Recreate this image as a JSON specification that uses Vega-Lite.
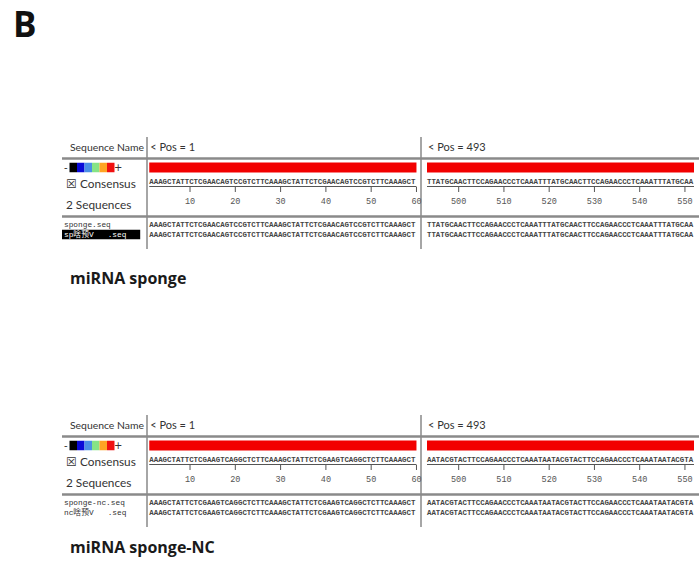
{
  "$schema": "https://vega.github.io/schema/vega-lite/v6.json",
  "width": 699,
  "height": 574,
  "autosize": "none",
  "padding": 0,
  "background": "white",
  "config": {"view": {"stroke": null}},
  "datasets": {
    "annotations": [
      {"lane": 0, "text": "B", "kind": "panel"},
      {"lane": 16, "text": "miRNA sponge", "kind": "caption"},
      {"lane": 36, "text": "miRNA sponge-NC", "kind": "caption"}
    ],
    "dividers": [
      {"lane": 1, "lane2": 15},
      {"lane": 21, "lane2": 35}
    ],
    "separators": [
      {"lane": 3}, {"lane": 12}, {"lane": 23}, {"lane": 32}
    ],
    "tracks": [
      {"kind": "identity", "pane": "p1", "lane": 4, "from": 1, "to": 60},
      {"kind": "identity", "pane": "p2", "lane": 4, "from": 493, "to": 552},
      {"kind": "identity", "pane": "p1", "lane": 24, "from": 1, "to": 60},
      {"kind": "identity", "pane": "p2", "lane": 24, "from": 493, "to": 552},
      {"kind": "underline", "pane": "p1", "lane": 7, "from": 1, "to": 60},
      {"kind": "underline", "pane": "p2", "lane": 7, "from": 493, "to": 552},
      {"kind": "underline", "pane": "p1", "lane": 27, "from": 1, "to": 60},
      {"kind": "underline", "pane": "p2", "lane": 27, "from": 493, "to": 552}
    ],
    "ruler": [
      {"pane": "p1", "pos": 10, "lane": 8, "lane2": 9},
      {"pane": "p1", "pos": 20, "lane": 8, "lane2": 9},
      {"pane": "p1", "pos": 30, "lane": 8, "lane2": 9},
      {"pane": "p1", "pos": 40, "lane": 8, "lane2": 9},
      {"pane": "p1", "pos": 50, "lane": 8, "lane2": 9},
      {"pane": "p1", "pos": 60, "lane": 8, "lane2": 9},
      {"pane": "p2", "pos": 500, "lane": 8, "lane2": 9},
      {"pane": "p2", "pos": 510, "lane": 8, "lane2": 9},
      {"pane": "p2", "pos": 520, "lane": 8, "lane2": 9},
      {"pane": "p2", "pos": 530, "lane": 8, "lane2": 9},
      {"pane": "p2", "pos": 540, "lane": 8, "lane2": 9},
      {"pane": "p2", "pos": 550, "lane": 8, "lane2": 9},
      {"pane": "p1", "pos": 10, "lane": 28, "lane2": 29},
      {"pane": "p1", "pos": 20, "lane": 28, "lane2": 29},
      {"pane": "p1", "pos": 30, "lane": 28, "lane2": 29},
      {"pane": "p1", "pos": 40, "lane": 28, "lane2": 29},
      {"pane": "p1", "pos": 50, "lane": 28, "lane2": 29},
      {"pane": "p1", "pos": 60, "lane": 28, "lane2": 29},
      {"pane": "p2", "pos": 500, "lane": 28, "lane2": 29},
      {"pane": "p2", "pos": 510, "lane": 28, "lane2": 29},
      {"pane": "p2", "pos": 520, "lane": 28, "lane2": 29},
      {"pane": "p2", "pos": 530, "lane": 28, "lane2": 29},
      {"pane": "p2", "pos": 540, "lane": 28, "lane2": 29},
      {"pane": "p2", "pos": 550, "lane": 28, "lane2": 29}
    ],
    "sequences": [
      {"pane": "p1", "lane": 5, "start": 1, "seq": "AAAGCTATTCTCGAACAGTCCGTCTTCAAAGCTATTCTCGAACAGTCCGTCTTCAAAGCT"},
      {"pane": "p1", "lane": 13, "start": 1, "seq": "AAAGCTATTCTCGAACAGTCCGTCTTCAAAGCTATTCTCGAACAGTCCGTCTTCAAAGCT"},
      {"pane": "p1", "lane": 14, "start": 1, "seq": "AAAGCTATTCTCGAACAGTCCGTCTTCAAAGCTATTCTCGAACAGTCCGTCTTCAAAGCT"},
      {"pane": "p2", "lane": 5, "start": 493, "seq": "TTATGCAACTTCCAGAACCCTCAAATTTATGCAACTTCCAGAACCCTCAAATTTATGCAA"},
      {"pane": "p2", "lane": 13, "start": 493, "seq": "TTATGCAACTTCCAGAACCCTCAAATTTATGCAACTTCCAGAACCCTCAAATTTATGCAA"},
      {"pane": "p2", "lane": 14, "start": 493, "seq": "TTATGCAACTTCCAGAACCCTCAAATTTATGCAACTTCCAGAACCCTCAAATTTATGCAA"},
      {"pane": "p1", "lane": 25, "start": 1, "seq": "AAAGCTATTCTCGAAGTCAGGCTCTTCAAAGCTATTCTCGAAGTCAGGCTCTTCAAAGCT"},
      {"pane": "p1", "lane": 33, "start": 1, "seq": "AAAGCTATTCTCGAAGTCAGGCTCTTCAAAGCTATTCTCGAAGTCAGGCTCTTCAAAGCT"},
      {"pane": "p1", "lane": 34, "start": 1, "seq": "AAAGCTATTCTCGAAGTCAGGCTCTTCAAAGCTATTCTCGAAGTCAGGCTCTTCAAAGCT"},
      {"pane": "p2", "lane": 25, "start": 493, "seq": "AATACGTACTTCCAGAACCCTCAAATAATACGTACTTCCAGAACCCTCAAATAATACGTA"},
      {"pane": "p2", "lane": 33, "start": 493, "seq": "AATACGTACTTCCAGAACCCTCAAATAATACGTACTTCCAGAACCCTCAAATAATACGTA"},
      {"pane": "p2", "lane": 34, "start": 493, "seq": "AATACGTACTTCCAGAACCCTCAAATAATACGTACTTCCAGAACCCTCAAATAATACGTA"}
    ],
    "posHeaders": [
      {"pane": "p1", "lane": 2, "pos": 1, "text": "< Pos = 1"},
      {"pane": "p2", "lane": 2, "pos": 493, "text": "< Pos = 493"},
      {"pane": "p1", "lane": 22, "pos": 1, "text": "< Pos = 1"},
      {"pane": "p2", "lane": 22, "pos": 493, "text": "< Pos = 493"}
    ],
    "legend": [
      {"lane": 4, "level": "-"}, {"lane": 4, "level": "1"}, {"lane": 4, "level": "2"}, {"lane": 4, "level": "3"},
      {"lane": 4, "level": "4"}, {"lane": 4, "level": "5"}, {"lane": 4, "level": "6"}, {"lane": 4, "level": "+"},
      {"lane": 24, "level": "-"}, {"lane": 24, "level": "1"}, {"lane": 24, "level": "2"}, {"lane": 24, "level": "3"},
      {"lane": 24, "level": "4"}, {"lane": 24, "level": "5"}, {"lane": 24, "level": "6"}, {"lane": 24, "level": "+"}
    ],
    "paneLabels": [
      {"lane": 2, "kind": "header", "text": "Sequence Name"},
      {"lane": 6, "kind": "summary", "text": "☒ Consensus"},
      {"lane": 11, "kind": "summary", "text": "2 Sequences"},
      {"lane": 22, "kind": "header", "text": "Sequence Name"},
      {"lane": 26, "kind": "summary", "text": "☒ Consensus"},
      {"lane": 31, "kind": "summary", "text": "2 Sequences"}
    ],
    "seqNames": [
      {"lane": 13, "name": "sponge.seq", "selected": "no"},
      {"lane": 14, "name": "sp啥预V\u00a0\u00a0\u00a0.seq", "selected": "yes"},
      {"lane": 33, "name": "sponge-nc.seq", "selected": "no"},
      {"lane": 34, "name": "nc啥预V\u00a0\u00a0\u00a0.seq", "selected": "no"}
    ]
  },
  "encoding": {
    "y": {
      "field": "lane",
      "type": "quantitative",
      "axis": null,
      "scale": {
        "domain": [0, 1, 2, 3, 4, 5, 6, 7, 8, 9, 10, 11, 12, 13, 14, 15, 16, 21, 22, 23, 24, 25, 26, 27, 28, 29, 30, 31, 32, 33, 34, 35, 36],
        "range": [37, 137, 148, 158.5, 167.5, 182, 184, 186.5, 187, 192, 200.5, 205, 216.5, 225, 234.5, 249, 284, 415, 426, 436.5, 445.5, 460, 462, 464.5, 465, 470, 478.5, 483, 494.5, 503, 512.5, 527, 553],
        "nice": false,
        "zero": false
      }
    }
  },
  "layer": [
    {
      "data": {"name": "dividers"},
      "mark": {"type": "rule", "color": "#a6a6a6", "strokeWidth": 2},
      "encoding": {
        "x": {"datum": 1, "type": "quantitative", "scale": {"domain": [0, 1], "range": [62, 147]}, "axis": null},
        "y2": {"field": "lane2"}
      }
    },
    {
      "data": {"name": "dividers"},
      "mark": {"type": "rule", "color": "#a6a6a6", "strokeWidth": 2},
      "encoding": {
        "x": {"datum": 61, "type": "quantitative", "scale": {"domain": [0.5, 61], "range": [147, 421]}, "axis": null},
        "y2": {"field": "lane2"}
      }
    },
    {
      "data": {"name": "separators"},
      "mark": {"type": "rule", "color": "#8a8a8a", "strokeWidth": 2.5},
      "encoding": {
        "x": {"datum": 0, "type": "quantitative", "scale": {"domain": [0, 1], "range": [62, 147]}, "axis": null},
        "x2": {"datum": 8}
      }
    },
    {
      "data": {"name": "tracks"},
      "transform": [{"filter": "datum.kind == 'identity' && datum.pane == 'p1'"}],
      "mark": {"type": "rule", "color": "#f20000", "strokeWidth": 10},
      "encoding": {
        "x": {"field": "from", "type": "quantitative", "scale": {"domain": [0.5, 61], "range": [147, 421]}, "axis": null},
        "x2": {"field": "to"}
      }
    },
    {
      "data": {"name": "tracks"},
      "transform": [{"filter": "datum.kind == 'identity' && datum.pane == 'p2'"}],
      "mark": {"type": "rule", "color": "#f20000", "strokeWidth": 10},
      "encoding": {
        "x": {"field": "from", "type": "quantitative", "scale": {"domain": [493, 552], "range": [427, 694]}, "axis": null},
        "x2": {"field": "to"}
      }
    },
    {
      "data": {"name": "tracks"},
      "transform": [{"filter": "datum.kind == 'underline' && datum.pane == 'p1'"}],
      "mark": {"type": "rule", "color": "#555555", "strokeWidth": 1},
      "encoding": {
        "x": {"field": "from", "type": "quantitative", "scale": {"domain": [0.5, 61], "range": [147, 421]}, "axis": null},
        "x2": {"field": "to"}
      }
    },
    {
      "data": {"name": "tracks"},
      "transform": [{"filter": "datum.kind == 'underline' && datum.pane == 'p2'"}],
      "mark": {"type": "rule", "color": "#555555", "strokeWidth": 1},
      "encoding": {
        "x": {"field": "from", "type": "quantitative", "scale": {"domain": [493, 552], "range": [427, 694]}, "axis": null},
        "x2": {"field": "to"}
      }
    },
    {
      "data": {"name": "ruler"},
      "transform": [{"filter": "datum.pane == 'p1'"}],
      "mark": {"type": "rule", "color": "#555555", "strokeWidth": 1},
      "encoding": {
        "x": {"field": "pos", "type": "quantitative", "scale": {"domain": [0.5, 61], "range": [147, 421]}, "axis": null},
        "y2": {"field": "lane2"}
      }
    },
    {
      "data": {"name": "ruler"},
      "transform": [{"filter": "datum.pane == 'p2'"}],
      "mark": {"type": "rule", "color": "#555555", "strokeWidth": 1},
      "encoding": {
        "x": {"field": "pos", "type": "quantitative", "scale": {"domain": [493, 552], "range": [427, 694]}, "axis": null},
        "y2": {"field": "lane2"}
      }
    },
    {
      "data": {"name": "ruler"},
      "transform": [{"filter": "datum.pane == 'p1'"}],
      "mark": {"type": "text", "font": "Liberation Mono", "fontSize": 8.5, "color": "#555555", "align": "center", "baseline": "middle", "dy": 13.5},
      "encoding": {
        "x": {"field": "pos", "type": "quantitative", "scale": {"domain": [0.5, 61], "range": [147, 421]}, "axis": null},
        "text": {"field": "pos", "type": "nominal"}
      }
    },
    {
      "data": {"name": "ruler"},
      "transform": [{"filter": "datum.pane == 'p2'"}],
      "mark": {"type": "text", "font": "Liberation Mono", "fontSize": 8.5, "color": "#555555", "align": "center", "baseline": "middle", "dy": 13.5},
      "encoding": {
        "x": {"field": "pos", "type": "quantitative", "scale": {"domain": [493, 552], "range": [427, 694]}, "axis": null},
        "text": {"field": "pos", "type": "nominal"}
      }
    },
    {
      "data": {"name": "sequences"},
      "transform": [{"filter": "datum.pane == 'p1'"}],
      "mark": {"type": "text", "font": "Liberation Mono", "fontSize": 7.4, "fontWeight": "bold", "color": "#444444", "align": "left", "baseline": "middle"},
      "encoding": {
        "x": {"field": "start", "type": "quantitative", "scale": {"domain": [0.5, 61], "range": [147, 421]}, "axis": null},
        "text": {"field": "seq", "type": "nominal"}
      }
    },
    {
      "data": {"name": "sequences"},
      "transform": [{"filter": "datum.pane == 'p2'"}],
      "mark": {"type": "text", "font": "Liberation Mono", "fontSize": 7.4, "fontWeight": "bold", "color": "#444444", "align": "left", "baseline": "middle"},
      "encoding": {
        "x": {"field": "start", "type": "quantitative", "scale": {"domain": [493, 552], "range": [427, 694]}, "axis": null},
        "text": {"field": "seq", "type": "nominal"}
      }
    },
    {
      "data": {"name": "posHeaders"},
      "transform": [{"filter": "datum.pane == 'p1'"}],
      "mark": {"type": "text", "font": "Lato", "fontSize": 11, "color": "#333333", "align": "left", "baseline": "middle", "dx": 1},
      "encoding": {
        "x": {"field": "pos", "type": "quantitative", "scale": {"domain": [0.5, 61], "range": [147, 421]}, "axis": null},
        "text": {"field": "text", "type": "nominal"}
      }
    },
    {
      "data": {"name": "posHeaders"},
      "transform": [{"filter": "datum.pane == 'p2'"}],
      "mark": {"type": "text", "font": "Lato", "fontSize": 11, "color": "#333333", "align": "left", "baseline": "middle", "dx": 1},
      "encoding": {
        "x": {"field": "pos", "type": "quantitative", "scale": {"domain": [493, 552], "range": [427, 694]}, "axis": null},
        "text": {"field": "text", "type": "nominal"}
      }
    },
    {
      "data": {"name": "legend"},
      "transform": [{"filter": "datum.level != '-' && datum.level != '+'"}],
      "mark": {"type": "point", "shape": "M-1,-1.27H1V1.27H-1Z", "size": 56, "filled": true, "opacity": 1, "strokeWidth": 0},
      "encoding": {
        "x": {"field": "level", "type": "nominal", "scale": {"type": "point", "domain": ["-", "1", "2", "3", "4", "5", "6", "+"], "range": [62, 122], "padding": 0.5}, "axis": null},
        "color": {"field": "level", "type": "nominal", "scale": {"domain": ["1", "2", "3", "4", "5", "6"], "range": ["#000000", "#0a0ad8", "#4a8fe6", "#86e486", "#ffa424", "#f01010"]}, "legend": null}
      }
    },
    {
      "data": {"name": "legend"},
      "transform": [{"filter": "datum.level == '-' || datum.level == '+'"}],
      "mark": {"type": "text", "font": "DejaVu Sans", "fontSize": 10, "color": "#333333", "align": "center", "baseline": "middle"},
      "encoding": {
        "x": {"field": "level", "type": "nominal", "scale": {"type": "point", "domain": ["-", "1", "2", "3", "4", "5", "6", "+"], "range": [62, 122], "padding": 0.5}, "axis": null},
        "text": {"field": "level", "type": "nominal"}
      }
    },
    {
      "data": {"name": "paneLabels"},
      "transform": [{"filter": "datum.kind == 'header'"}],
      "mark": {"type": "text", "font": "Lato", "fontSize": 10.4, "color": "#333333", "align": "left", "baseline": "middle", "dx": 8},
      "encoding": {
        "x": {"datum": 0, "type": "quantitative", "scale": {"domain": [0, 1], "range": [62, 147]}, "axis": null},
        "text": {"field": "text", "type": "nominal"}
      }
    },
    {
      "data": {"name": "paneLabels"},
      "transform": [{"filter": "datum.kind == 'summary'"}],
      "mark": {"type": "text", "font": "Lato", "fontSize": 11.8, "color": "#333333", "align": "left", "baseline": "middle", "dx": 4},
      "encoding": {
        "x": {"datum": 0, "type": "quantitative", "scale": {"domain": [0, 1], "range": [62, 147]}, "axis": null},
        "text": {"field": "text", "type": "nominal"}
      }
    },
    {
      "data": {"name": "seqNames"},
      "transform": [{"filter": "datum.selected == 'yes'"}],
      "mark": {"type": "rule", "color": "#000000", "strokeWidth": 9.5},
      "encoding": {
        "x": {"datum": 0, "type": "quantitative", "scale": {"domain": [0, 1], "range": [62, 147]}, "axis": null},
        "x2": {"datum": 0.92}
      }
    },
    {
      "data": {"name": "seqNames"},
      "mark": {"type": "text", "font": "Liberation Mono, Noto Sans CJK SC, monospace", "fontSize": 7.8, "align": "left", "baseline": "middle", "dx": 2},
      "encoding": {
        "x": {"datum": 0, "type": "quantitative", "scale": {"domain": [0, 1], "range": [62, 147]}, "axis": null},
        "text": {"field": "name", "type": "nominal"},
        "color": {"field": "selected", "type": "nominal", "scale": {"domain": ["no", "yes"], "range": ["#333333", "#ffffff"]}, "legend": null}
      }
    },
    {
      "data": {"name": "annotations"},
      "transform": [{"filter": "datum.kind == 'caption'"}],
      "mark": {"type": "text", "font": "Open Sans", "fontWeight": "bold", "fontSize": 16, "color": "#1a1a1a", "align": "left", "baseline": "alphabetic", "dx": 8},
      "encoding": {
        "x": {"datum": 0, "type": "quantitative", "scale": {"domain": [0, 1], "range": [62, 147]}, "axis": null},
        "text": {"field": "text", "type": "nominal"}
      }
    },
    {
      "data": {"name": "annotations"},
      "transform": [{"filter": "datum.kind == 'panel'"}],
      "mark": {"type": "text", "font": "Open Sans", "fontWeight": "bold", "fontSize": 35, "color": "#111111", "align": "left", "baseline": "alphabetic", "dx": -49},
      "encoding": {
        "x": {"datum": 0, "type": "quantitative", "scale": {"domain": [0, 1], "range": [62, 147]}, "axis": null},
        "text": {"field": "text", "type": "nominal"}
      }
    }
  ],
  "resolve": {"scale": {"x": "independent", "color": "independent"}}
}
